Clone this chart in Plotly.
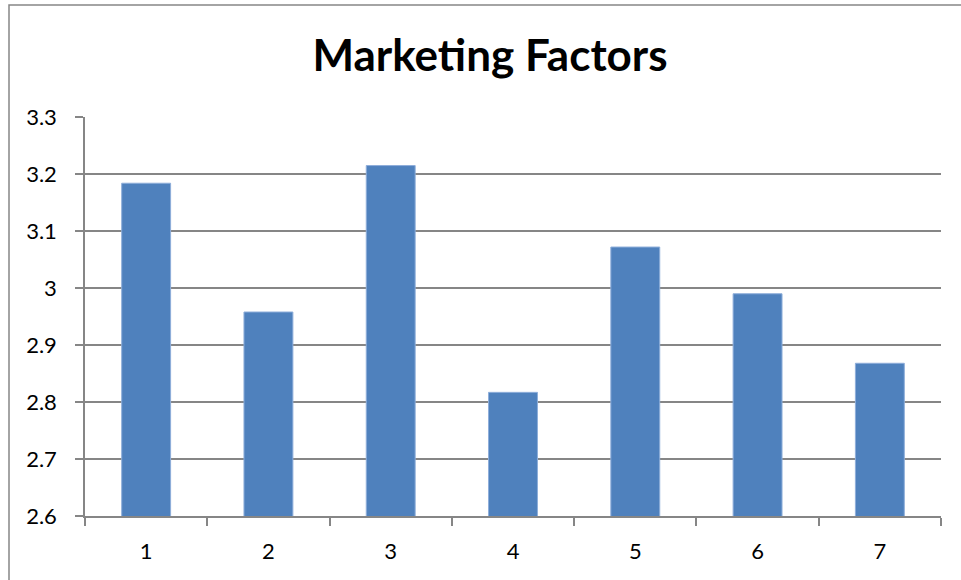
import plotly.graph_objects as go

# Category labels and average scores per marketing factor
factors = ["1", "2", "3", "4", "5", "6", "7"]
scores = [3.184, 2.958, 3.215, 2.817, 3.072, 2.990, 2.868]

y_ticks = [2.6, 2.7, 2.8, 2.9, 3.0, 3.1, 3.2, 3.3]
y_tick_text = ["2.6", "2.7", "2.8", "2.9", "3", "3.1", "3.2", "3.3"]

grey = "#868686"
font_family = "Lato, Open Sans, sans-serif"

fig = go.Figure(
    go.Bar(
        x=factors,
        y=scores,
        marker=dict(color="#4F81BD", line=dict(color="#8EAEDA", width=1)),
        width=0.4,
    )
)

fig.update_layout(
    width=961,
    height=580,
    margin=dict(l=85, r=20, t=117, b=64),
    paper_bgcolor="white",
    plot_bgcolor="white",
    showlegend=False,
    title=dict(
        text="<b>Marketing Factors</b>",
        font=dict(family=font_family, size=44, color="black"),
        x=490 / 961,
        xanchor="center",
        y=1 - 56 / 580,
        yanchor="middle",
    ),
    font=dict(family=font_family, size=22, color="black"),
)

fig.update_xaxes(
    type="category",
    tickson="boundaries",
    ticks="outside",
    ticklen=8,
    tickcolor=grey,
    tickwidth=1.5,
    showline=True,
    linecolor=grey,
    linewidth=1.5,
    showgrid=False,
    tickfont=dict(size=22),
    ticklabelstandoff=15,
)

fig.update_yaxes(
    range=[2.6, 3.3002],
    tickvals=y_ticks,
    ticktext=y_tick_text,
    ticks="outside",
    ticklen=8,
    tickcolor=grey,
    tickwidth=1.5,
    showline=True,
    linecolor=grey,
    linewidth=1.5,
    showgrid=True,
    gridcolor=grey,
    gridwidth=1.5,
    zeroline=False,
    tickfont=dict(size=22),
    ticklabelstandoff=14,
)

# Chart area outline
fig.add_shape(
    type="rect",
    xref="paper",
    yref="paper",
    x0=(9 - 85) / 856,
    x1=1.2,
    y0=-0.4,
    y1=1 + (117 - 5) / 399,
    line=dict(color=grey, width=1.5),
    fillcolor="rgba(0,0,0,0)",
    layer="below",
)

fig.write_html("out.html")
